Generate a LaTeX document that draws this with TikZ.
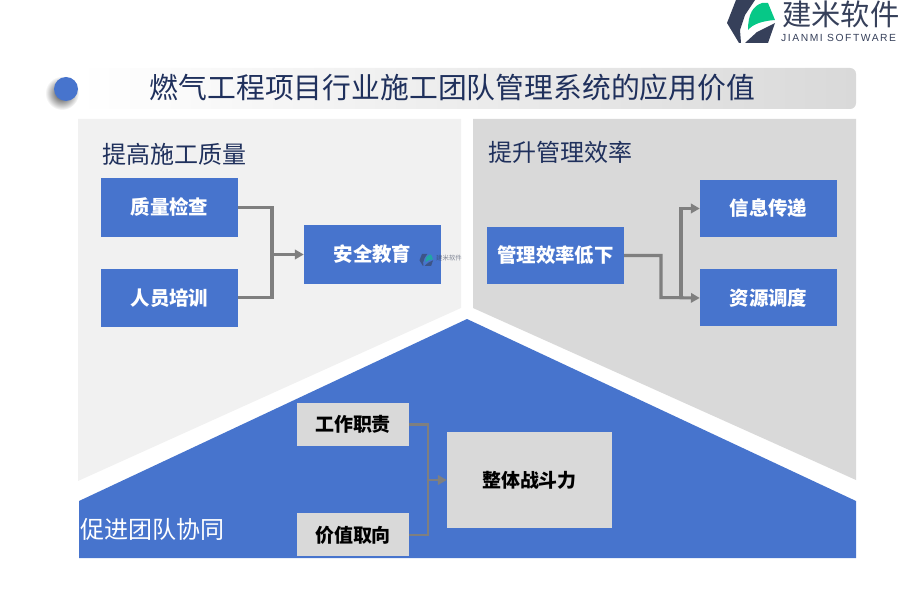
\documentclass[tikz,border=0pt]{standalone}
\usepackage{fontspec}
\setmainfont{Noto Sans CJK SC}
\newfontfamily\latinlogo[LetterSpace=15]{Liberation Sans}
\usetikzlibrary{arrows.meta,positioning,calc}
\definecolor{BoxBlue}{RGB}{71,116,205}
\definecolor{PaleGray}{RGB}{241,241,241}
\definecolor{MidGray}{RGB}{217,217,217}
\definecolor{LinkGray}{RGB}{127,127,127}
\definecolor{TitleNavy}{RGB}{31,48,92}
\definecolor{LogoNavy}{RGB}{54,64,90}
\definecolor{LogoGreen}{RGB}{6,200,135}
\tikzset{
  bluebox/.style={fill=BoxBlue,text=white,font=\fontsize{16.6}{18}\selectfont\bfseries,
    minimum width=4.11cm,minimum height=1.74cm,inner sep=0pt,align=center},
  shortbox/.style={bluebox,minimum height=1.71cm},
  graybox/.style={fill=MidGray,text=black,font=\fontsize{16.2}{18}\selectfont\bfseries,
    minimum width=3.36cm,minimum height=1.29cm,inner sep=0pt,align=center},
  heading/.style={anchor=west,inner sep=0pt,text=TitleNavy,font=\fontsize{20.5}{22}\selectfont},
  link/.style={draw=LinkGray,line width=2.6pt},
  thinlink/.style={draw=LinkGray,line width=2.4pt},
  linkarrow/.style={-{Triangle[length=7.5pt,width=8pt]}},
  logomark/.pic={
    \fill[LogoNavy] (-14,-22) -- (5,-22) -- (-5,-7) -- (-10,8) -- (-9,21) -- (-11,21) -- (-23,1) -- cycle;
    \fill[LogoNavy] (-5,21) -- (18,21) -- (25,1) -- (7,10) -- cycle;
    \fill[LogoGreen] (-2,8) .. controls (-2,-8) and (3,-16) .. (12,-19) -- (18,-19)
      -- (25,-2) .. controls (12,-1) and (3,2) .. (-2,8) -- cycle;
  }
}
\begin{document}
\begin{tikzpicture}[x=0.03cm,y=-0.03cm]
  \useasboundingbox (0,0) rectangle (900,600);
  % background panels
  \fill[PaleGray] (78,119) -- (461,119) -- (461,308) -- (78,481) -- cycle;
  \fill[MidGray] (473,119) -- (856,119) -- (856,480) -- (473,308) -- cycle;
  \fill[BoxBlue] (467,319) -- (856,501) -- (856,558) -- (79,558) -- (79,501) -- cycle;
  % title bar
  \shade[left color=white,right color=MidGray,rounded corners=5pt] (78,68) rectangle (856,109);
  \shade[inner color=black!80,outer color=white] (62,93) circle (17);
  \fill[BoxBlue] (66,89) circle (12);
  \node[inner sep=0pt,text=TitleNavy,font=\fontsize{24.6}{27}\selectfont] (title) at (452.5,88) {燃气工程项目行业施工团队管理系统的应用价值};
  % logo
  \pic at (750,22) {logomark};
  \node[anchor=west,inner sep=0pt,text=LogoNavy,font=\fontsize{25}{27}\selectfont] (logotext) at (782,14) {建米软件};
  \node[anchor=west,inner sep=0pt,text=LogoNavy,font=\latinlogo\fontsize{8.8}{10}\selectfont] (logosub) at (781,38) {JIANMI SOFTWARE};
  % left panel
  \node[heading] (headq) at (102,154) {提高施工质量};
  \node[bluebox] (check) at (169.5,207.5) {质量检查};
  \node[bluebox,below=0.96cm of check] (train) {人员培训};
  \node[bluebox] (safety) at (372.5,254.5) {安全教育};
  \coordinate (joinq) at (272,254.5);
  \draw[link] (check.east) -| (joinq);
  \draw[link] (train.east) -| (joinq);
  \draw[link,linkarrow] (joinq) -- (safety.west);
  % small mark on the safety box
  \begin{scope}[shift={(426,260)},x=0.0085cm,y=-0.0085cm,opacity=0.6]
    \pic {logomark};
  \end{scope}
  \node[inner sep=0pt,opacity=0.6,text=LogoNavy,font=\fontsize{5.5}{6}\selectfont] (marktext) at (449,258) {建米软件};
  % right panel
  \node[heading] (heade) at (488,152) {提升管理效率};
  \node[shortbox] (low) at (555.5,255.5) {管理效率低下};
  \node[shortbox] (info) at (768.5,208.5) {信息传递};
  \node[shortbox,below=0.96cm of info] (dispatch) {资源调度};
  \coordinate (drop) at (661,297.5);
  \coordinate (fork) at (681,297.5);
  \draw[link,linkarrow] (low.east) -| (drop) -- (dispatch.west);
  \draw[link,linkarrow] (fork) |- (info.west);
  % bottom panel
  \node[anchor=west,inner sep=0pt,text=white,font=\fontsize{20.5}{22}\selectfont] (headt) at (80,529) {促进团队协同};
  \node[graybox] (duty) at (353,424.5) {工作职责};
  \node[graybox,below=2.01cm of duty] (value) {价值取向};
  \node[graybox,minimum width=4.95cm,minimum height=2.88cm] (power) at (529.5,480) {整体战斗力};
  \coordinate (joint) at (428,480);
  \draw[thinlink] (duty.east) -| (joint);
  \draw[thinlink] (value.east) -| (joint);
  \draw[thinlink,linkarrow] (joint) -- (power.west);
\end{tikzpicture}
\end{document}
